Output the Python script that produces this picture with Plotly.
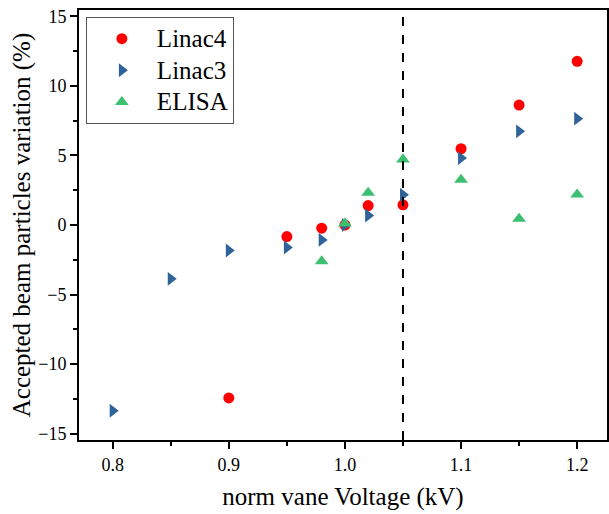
import plotly.graph_objects as go

series_names = ["Linac4", "Linac3", "ELISA"]

linac4_x = [0.9, 0.95, 0.98, 1.0, 1.02, 1.05, 1.1, 1.15, 1.2]
linac4_y = [-12.43, -0.83, -0.23, 0.0, 1.40, 1.45, 5.48, 8.62, 11.76]

linac3_x = [0.8, 0.85, 0.9, 0.95, 0.98, 1.0, 1.02, 1.05, 1.1, 1.15, 1.2]
linac3_y = [-13.35, -3.87, -1.83, -1.62, -1.07, 0.0, 0.68, 2.17, 4.81, 6.73, 7.64]

elisa_x = [0.98, 1.0, 1.02, 1.05, 1.1, 1.15, 1.2]
elisa_y = [-2.6, 0.1, 2.32, 4.71, 3.25, 0.45, 2.19]

vline_x = 1.05

FONT = "Liberation Serif"


def legend_label(name):
    return '<span style="font-size:25px">' + name + '</span>'


fig = go.Figure()
fig.add_trace(go.Scatter(x=linac4_x, y=linac4_y, mode="markers", name=legend_label(series_names[0]),
                         marker=dict(symbol="circle", size=11, color="#ff0000")))
fig.add_trace(go.Scatter(x=linac3_x, y=linac3_y, mode="markers", name=legend_label(series_names[1]),
                         marker=dict(symbol="triangle-right", size=12, color="#2f6399")))
fig.add_trace(go.Scatter(x=elisa_x, y=elisa_y, mode="markers", name=legend_label(series_names[2]),
                         marker=dict(symbol="triangle-up", size=12, color="#3cbf70")))

fig.add_vline(x=vline_x, line=dict(color="black", width=2, dash="dash"))

axis_common = dict(
    showgrid=False, zeroline=False, showline=True, linecolor="black", linewidth=2,
    mirror=True, ticks="outside", ticklen=7, tickwidth=2, tickcolor="black",
    tickfont=dict(family=FONT, size=18, color="black"),
)

fig.update_xaxes(range=[0.771, 1.2257], dtick=0.1, tick0=0.8, tickformat=".1f",
                 title=dict(text="norm vane Voltage (kV)", font=dict(family=FONT, size=25, color="black"), standoff=14),
                 minor=dict(ticks="outside", ticklen=4, tickwidth=2, tickcolor="black", dtick=0.05, tick0=0.8),
                 **axis_common)
fig.update_yaxes(range=[-15.45, 15.45], dtick=5, tick0=0,
                 title=dict(text="Accepted beam particles variation (%)", font=dict(family=FONT, size=25, color="black"), standoff=0),
                 minor=dict(ticks="outside", ticklen=4, tickwidth=2, tickcolor="black", dtick=2.5, tick0=0),
                 **axis_common)

fig.update_layout(
    width=609, height=514,
    margin=dict(l=79, r=0, t=10, b=74),
    paper_bgcolor="white", plot_bgcolor="white",
    font=dict(family=FONT, color="black"),
    showlegend=True,
    legend=dict(x=0.013, y=0.984, xanchor="left", yanchor="top",
                bgcolor="white", bordercolor="#555555", borderwidth=1,
                font=dict(family=FONT, size=22, color="black"),
                itemwidth=60, tracegroupgap=0),
)

fig.write_html("out.html", config={"displayModeBar": False},
               post_script="document.body.style.margin='0';document.body.style.overflow='hidden';")
